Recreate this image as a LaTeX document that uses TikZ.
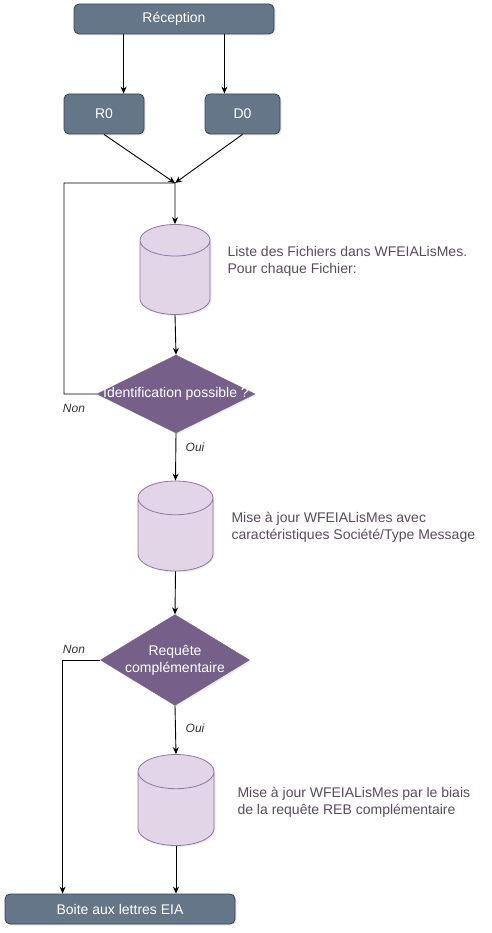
\documentclass[tikz,border=0pt]{standalone}
\usepackage{fontspec}
\setmainfont{Liberation Sans}
\usetikzlibrary{shapes.geometric,shadows,arrows.meta}
\definecolor{boxfill}{HTML}{647687}
\definecolor{boxline}{HTML}{314354}
\definecolor{cylfill}{HTML}{E1D5E7}
\definecolor{cylline}{HTML}{9673A6}
\definecolor{decfill}{HTML}{76608A}
\definecolor{notecol}{HTML}{5A4A5E}
\newcommand{\nt}{\fontsize{14}{17}\selectfont}
\newcommand{\lb}{\fontsize{12}{14}\selectfont\itshape}

\begin{document}
\begin{tikzpicture}[x=1pt,y=-1pt,
   box/.style={draw=boxline,line width=0.8pt,fill=boxfill,rounded corners=5pt,text=white,font=\nt,
     drop shadow={opacity=0.2,shadow xshift=1.5pt,shadow yshift=-1.5pt}},
   base/.style={cylinder,shape border rotate=90,aspect=0.45,draw=cylline,line width=0.8pt,fill=cylfill,
     anchor=shape center,inner ysep=0pt,
     drop shadow={opacity=0.15,shadow xshift=1.5pt,shadow yshift=-1.5pt}},
   decision/.style={diamond,draw=decfill,fill=decfill,text=white,font=\nt,inner sep=0pt,
     align=center,drop shadow={opacity=0.15,shadow xshift=1.5pt,shadow yshift=-1.5pt}},
   note/.style={anchor=west,align=left,text=notecol,font=\nt},
   lbl/.style={font=\lb,text=black!80},
   flow/.style={-{Stealth[length=7pt,width=6pt]},line width=0.9pt}]
   \useasboundingbox (0,0) rectangle (491,933);
   \node[box,minimum width=200pt,minimum height=30pt] (rec) at (174,19) {Réception};
   \node[box,minimum width=80pt,minimum height=40pt]  (r0)  at (104,114) {R0};
   \node[box,minimum width=75pt,minimum height=40pt]  (d0)  at (242.5,114) {D0};
   \coordinate (merge) at (175,183);
   \coordinate (loop)  at (64,183);
   \node[base,inner xsep=35pt,minimum width=70pt,minimum height=90pt] (c1) at (175,269.5) {};
   \node[decision,minimum width=158pt,minimum height=78pt] (d1) at (176,394)
     {\makebox[0pt]{Identification possible ?}};
   \node[base,inner xsep=37.5pt,minimum width=75pt,minimum height=90pt] (c2) at (175.5,526) {};
   \node[decision,aspect=1.64,minimum width=148pt,minimum height=90pt] (d2) at (175,660)
     {Requête\\complémentaire};
   \node[base,inner xsep=38pt,minimum width=76pt,minimum height=91pt] (c3) at (176,800) {};
   \node[box,minimum width=230pt,minimum height=30pt] (mbox) at (120,909) {Boite aux lettres EIA};
   \node[note] (n1) at (224,261) {Liste des Fichiers dans WFEIALisMes.\\Pour chaque Fichier:};
   \node[note] (n2) at (228,527) {Mise à jour WFEIALisMes avec\\caractéristiques Société/Type Message};
   \node[note] (n3) at (234,802) {Mise à jour WFEIALisMes par le biais\\de la requête REB complémentaire};
   \node[lbl] (non1) at (74,408) {Non};
   \node[lbl] (oui1) at (195,447) {Oui};
   \node[lbl] (non2) at (74,649) {Non};
   \node[lbl] (oui2) at (195,728) {Oui};
   \draw[flow] ([xshift=50pt]rec.south west) -- ([xshift=50pt]rec.south west |- r0.north);
   \draw[flow] ([xshift=-50pt]rec.south east) -- ([xshift=-50pt]rec.south east |- d0.north);
   \draw[flow] (r0.south) -- (merge);
   \draw[flow] (d0.south) -- (merge);
   \draw[flow] (d1.west) -| (loop) -- (merge) -- (c1.north);
   \draw[flow] (c1.south) -- (d1.north);
   \draw[flow] (d1.south) -- (c2.north);
   \draw[flow] (c2.south) -- (d2.north);
   \draw[flow] (d2.south) -- (c3.north);
   \draw[flow] (d2.west) -| ([xshift=58pt]mbox.north west);
   \draw[flow] (c3.south) -- (c3.south |- mbox.north);
\end{tikzpicture}
\end{document}
